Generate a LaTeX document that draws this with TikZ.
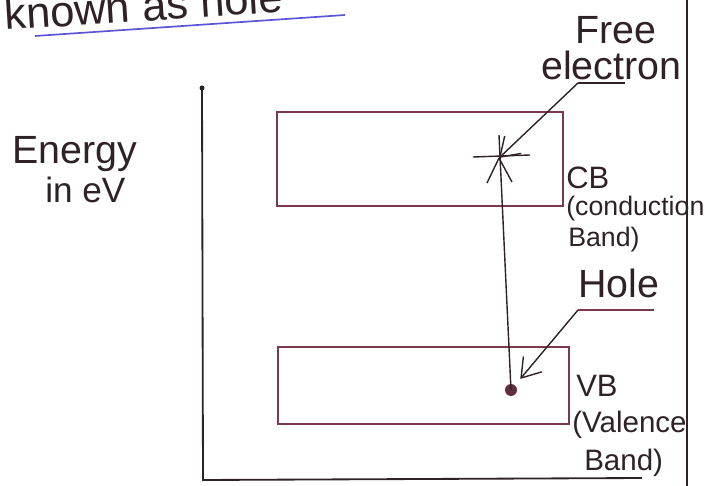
\documentclass[tikz,border=0pt]{standalone}
\usepackage{fontspec}
\setmainfont{Liberation Sans}
\usetikzlibrary{arrows.meta}
\definecolor{ink}{HTML}{2E2226}
\definecolor{bandline}{HTML}{7A3A4C}
\definecolor{penblue}{HTML}{5B55D6}
\tikzset{
  hand/.style={font=\fontsize{28}{30}\selectfont, text=ink, inner sep=0pt},
  small/.style={hand, font=\fontsize{21}{23}\selectfont},
  band/.style={draw=bandline, line width=1.1pt, inner sep=0pt},
  pointer/.style={draw=ink, line width=1pt, -{Straight Barb[length=4.5mm,width=6mm]}},
}
\begin{document}
\begin{tikzpicture}[x=0.025cm, y=-0.025cm]
  \useasboundingbox (0,0) rectangle (712,486);
  % Heading cut at the top
  \node[hand, font=\fontsize{31}{33}\selectfont, anchor=base west, rotate=3.7] (title) at (5,30) {known as hole};
  \draw[penblue, line width=1.2pt] (35,36) -- (345,15);
  % Page margin
  \draw[ink, line width=0.8pt] (687,0) -- (687,486);
  % Energy axis
  \coordinate (axtop) at (202,88);
  \coordinate (axcorner) at (203,480);
  \coordinate (axend) at (642,478);
  \draw[ink, line width=1.3pt] (axtop) -- (axcorner) -- (axend);
  \fill[ink] (axtop) circle (2.5);
  \node[hand, anchor=base west] (energy) at (12,164) {Energy};
  \node[hand, font=\fontsize{25}{27}\selectfont, anchor=base west] (unit) at (45,203) {in eV};
  % Bands
  \node[band, minimum width=7.15cm, minimum height=2.35cm] (cb) at (420,159) {};
  \node[band, minimum width=7.275cm, minimum height=1.925cm] (vb) at (423.5,385.5) {};
  % CB label
  \node[small, font=\fontsize{22}{24}\selectfont, anchor=base west] (cbname) at (566,188) {CB};
  \node[small, font=\fontsize{19}{21}\selectfont, anchor=base west] (cbtext) at (566,216) {(conduction};
  \node[small, font=\fontsize{19}{21}\selectfont, anchor=base west] (cbband) at (568,246) {Band)};
  % VB label
  \node[small, font=\fontsize{22}{24}\selectfont, anchor=base west] (vbname) at (576,396) {VB};
  \node[small, anchor=base west] (vbtext) at (572,432) {(Valence};
  \node[small, anchor=base west] (vbband) at (584,470) {Band)};
  % Free electron
  \coordinate (fe) at (499,158);
  \draw[ink, line width=1pt] (473,157) -- (530,155);
  \draw[ink, line width=1pt] (fe) -- (487,183);
  \draw[ink, line width=1pt] (fe) -- (512,182);
  \node[hand, anchor=base west] (free) at (575,44) {Free};
  \node[hand, anchor=base west] (electron) at (541,80) {electron};
  \coordinate (eline) at (578,83);
  \draw[ink, line width=0.9pt] (eline) -- (625,83);
  \draw[pointer] (eline) -- (fe);
  % Hole
  \coordinate (hole) at (511,390);
  \fill[bandline!80!black] (hole) circle (6);
  \draw[ink, line width=1pt] (hole) -- (499,135);
  \node[hand, anchor=base west] (holetext) at (578,297) {Hole};
  \coordinate (hline) at (578,310);
  \draw[bandline, line width=1.1pt] (hline) -- (654,310);
  \draw[pointer, shorten >=3.6mm] (hline) -- (hole);
\end{tikzpicture}
\end{document}
